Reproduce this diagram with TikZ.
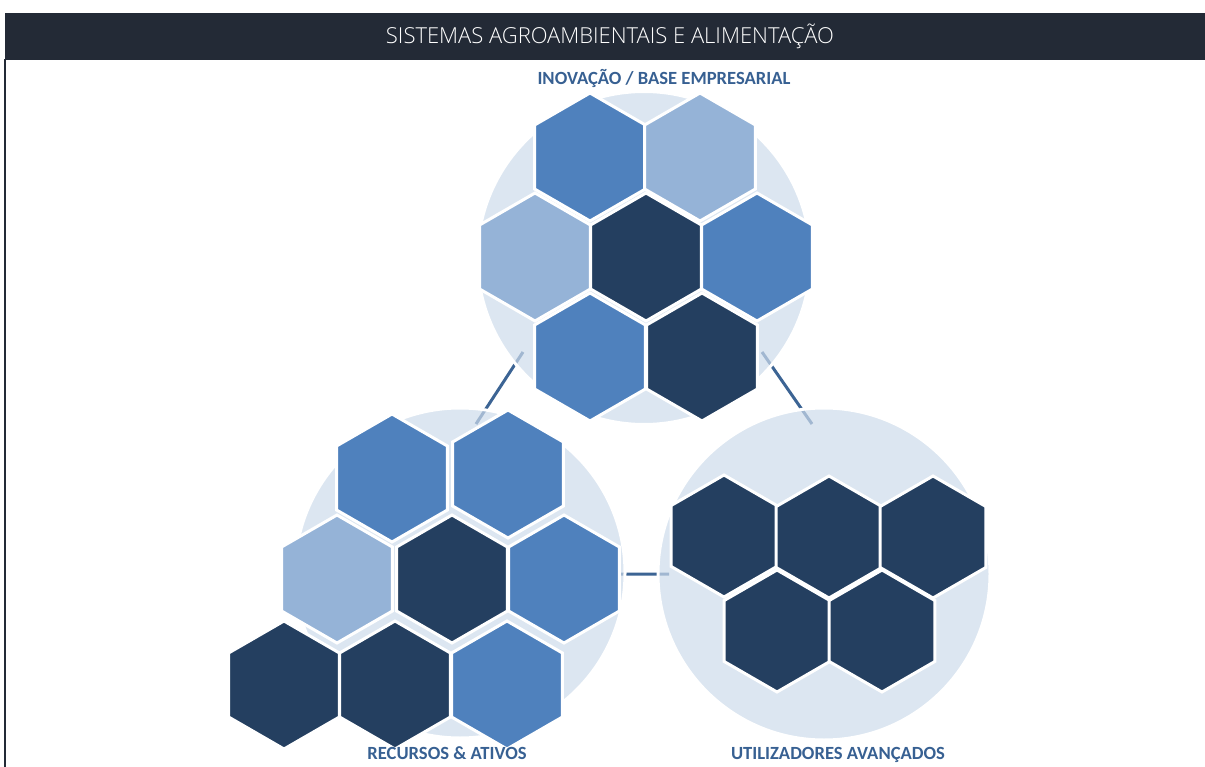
\documentclass[tikz,border=0pt]{standalone}
\usepackage{fontspec}
\setmainfont{Carlito}
\newfontfamily\titlefont{Open Sans Light}
\definecolor{barra}{HTML}{232A36}
\definecolor{escuro}{HTML}{243F60}
\definecolor{medio}{HTML}{4F81BD}
\definecolor{claro}{HTML}{95B3D7}
\definecolor{disco}{HTML}{CDDBEB}
\definecolor{rotulo}{HTML}{376092}
\definecolor{ligacao}{HTML}{3C6494}
\begin{document}
\begin{tikzpicture}[x=1pt,y=-1pt,
	disc/.style={circle,minimum size=#1,inner sep=0pt,fill=disco,fill opacity=0.7,draw=white,draw opacity=1,line width=3pt},
	hexa/.style={draw=white,line width=3pt},
	link/.style={draw=ligacao,line width=3pt},
	rot/.style={text=rotulo,font=\bfseries\fontsize{18.6}{20}\selectfont,anchor=base}]
	\useasboundingbox (0,0) rectangle (1205,767);
	% faixa do titulo
	\fill[barra] (5,13) rectangle (1205,60);
	\draw[barra,line width=2pt] (5,59) -- (5,767);
	\node[anchor=base,text=white,font=\titlefont\fontsize{22}{24}\selectfont] (titulo) at (610,44) {SISTEMAS AGROAMBIENTAIS E ALIMENTAÇÃO};
	% ligacoes
	\path (523,352) coordinate (a1)
	(476,424) coordinate (a2)
	(762,352) coordinate (b1)
	(812,424) coordinate (b2)
	(618,574) coordinate (c1)
	(669,574) coordinate (c2);
	\draw[link] (a1)--(a2) (b1)--(b2) (c1)--(c2);
	% circulos
	\node[disc=333] (inov) at (644,258) {};
	\node[disc=330] (recur) at (460,573) {};
	\node[disc=332] (util) at (824,574) {};
	% hexagonos
	\foreach \x/\y/\r/\cor in {590/157/64/medio,700/157/64/claro,535/257/64/claro,646/257/64/escuro,757/257/64/medio,590/357/64/medio,702/357/64/escuro,
		392/478/64/medio,508/474/64/medio,337/579/64/claro,452/579/64/escuro,564/579/64/medio,284/685/64/escuro,395/685/64/escuro,507/685/64/medio,
		724/536/61/escuro,829/537/61/escuro,933/537/61/escuro,777/631/61/escuro,882/631/61/escuro}{
		\path[hexa,fill=\cor] (\x,\y) +(30:\r) \foreach \a in {90,150,...,330}{ -- +(\a:\r)} -- cycle;
	}
	% rotulos
	\node[rot] (lbinov) at (664,85) {INOVAÇÃO / BASE EMPRESARIAL};
	\node[rot] (lbrecur) at (447,759) {RECURSOS \& ATIVOS};
	\node[rot] (lbutil) at (838,759) {UTILIZADORES AVANÇADOS};
\end{tikzpicture}
\end{document}
